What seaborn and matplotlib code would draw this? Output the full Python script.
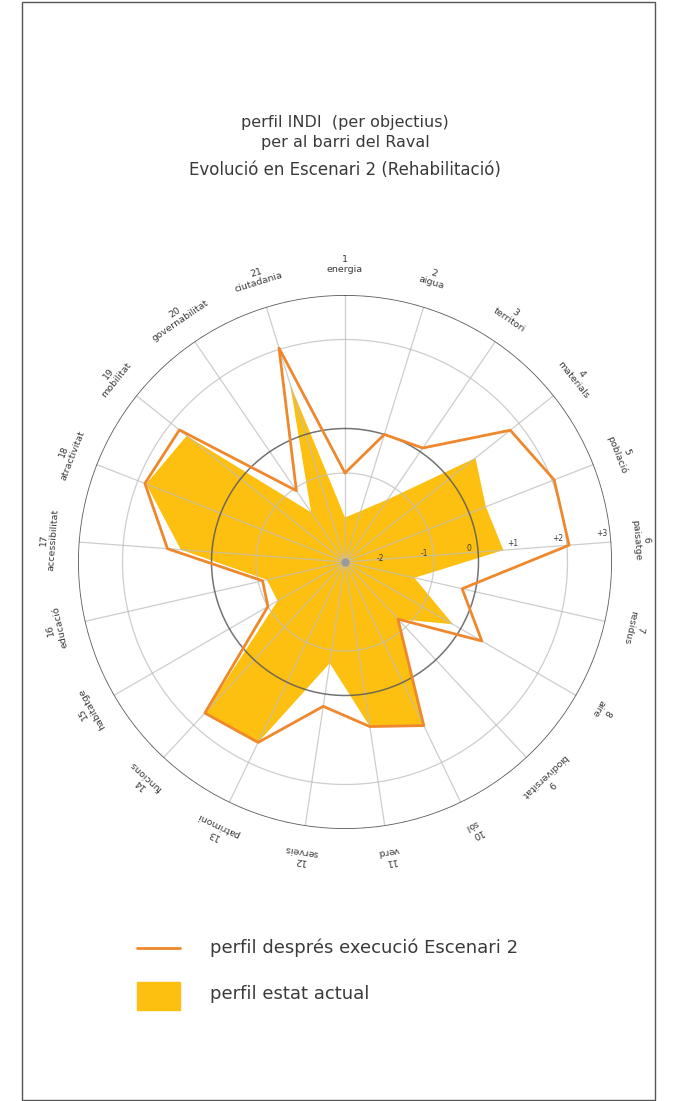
import numpy as np
import matplotlib
matplotlib.use("Agg")
import matplotlib.pyplot as plt
from matplotlib.patches import Rectangle
from matplotlib.lines import Line2D
import seaborn as sns
import pandas as pd

# ---------------- data ----------------
numeros = [str(i) for i in range(1, 22)]
objectius = ["energia", "aigua", "territori", "materials", "població", "paisatge",
             "residus", "aire", "biodiversitat", "sòl", "verd", "serveis",
             "patrimoni", "funcions", "habitatge", "educació", "accessibilitat",
             "atractivitat", "mobilitat", "governabilitat", "ciutadania"]
estat_actual = [-2.0, -1.8, -1.3, 0.75, 0.4, 0.57, -1.4, -0.2, -1.25, 1.08, 0.74,
                -0.7, 1.5, 1.63, -1.25, -1.2, 0.7, 1.8, 1.55, -1.65, 1.2]
escenari_2 = [-1.0, 0.0, 0.1, 1.75, 2.05, 2.05, -0.3, 0.55, -1.25, 1.08, 0.74,
              0.28, 1.5, 1.63, -1.0, -1.1, 1.0, 1.83, 1.76, -1.06, 2.03]
valors_anell = [-2, -1, 0, 1, 2, 3]
etiquetes_anell = ["-2", "-1", "0", "+1", "+2", "+3"]

titol = ["perfil INDI  (per objectius)", "per al barri del Raval",
         "Evolució en Escenari 2 (Rehabilitació)"]
llegenda = ["perfil després execució Escenari 2", "perfil estat actual"]

# ---------------- style ----------------
sns.set_theme(style="white")
plt.rcParams["font.family"] = ["DejaVu Sans"]

GROC = "#FDC010"
TARONJA = "#EF882C"
GRIS = "#BDBDBD"
FOSC = "#5a5a5a"
TEXT = "#3a3a3a"

W, H = 676, 1101
fig = plt.figure(figsize=(W / 100, H / 100), dpi=100)
fig.patch.set_facecolor("white")

cx, cy, R = 345, 562, 267
ax = fig.add_axes([(cx - R) / W, 1 - (cy + R) / H, 2 * R / W, 2 * R / H],
                  projection="polar")
ax.set_theta_zero_location("N")
ax.set_theta_direction(-1)
ax.set_ylim(-3, 3)
ax.grid(False)
ax.set_xticks([])
ax.set_yticks([])
ax.spines["polar"].set_visible(False)
ax.set_facecolor("none")

n = len(objectius)
theta = np.arange(n) * 2 * np.pi / n
theta_c = np.append(theta, 2 * np.pi)
act_c = np.append(estat_actual, estat_actual[0])
esc_c = np.append(escenari_2, escenari_2[0])

# filled current profile
ax.fill(theta_c, act_c, color=GROC, lw=0, zorder=2)

# grid: spokes and rings (over the fill, semi transparent)
td = np.linspace(0, 2 * np.pi, 400)
for t in theta:
    ax.plot([t, t], [-3, 3], color=GRIS, lw=0.9, alpha=0.75, zorder=3)
for v in (-1, 2):
    ax.plot(td, np.full_like(td, v), color=GRIS, lw=0.9, alpha=0.75, zorder=3)
ax.plot(td, np.zeros_like(td), color=FOSC, lw=1.1, alpha=0.85, zorder=3)
ax.plot(td, np.full_like(td, 3), color=FOSC, lw=1.2, zorder=3)

# scenario line via seaborn
df = pd.DataFrame({"theta": theta_c, "valor": esc_c})
sns.lineplot(data=df, x="theta", y="valor", sort=False, estimator=None,
             color=TARONJA, lw=2.0, ax=ax, zorder=5)
ax.set_xlabel("")
ax.set_ylabel("")
ax.set_ylim(-3, 3)

# center dot
ax.plot([0], [-3], marker="o", ms=5, color="#9a9a9a", zorder=6)

# ring labels along axis 6
t6 = theta[5]
for v, lab in zip(valors_anell, etiquetes_anell):
    ax.text(t6 - 0.035, v - 0.2, lab, fontsize=5.5, color=TEXT,
            ha="center", va="center", zorder=7)

# axis labels (tangential)
for t, num, nom in zip(theta, numeros, objectius):
    deg = np.degrees(t)
    ax.text(t, 3.68, f"{num}\n{nom}", rotation=-deg, rotation_mode="anchor",
            ha="center", va="center", fontsize=6.8, color=TEXT,
            linespacing=1.15, zorder=7)

# title
for yy, s, fs in zip([122, 143, 170], titol, [11.5, 11.5, 12]):
    fig.text(cx / W, 1 - yy / H, s, ha="center", va="center",
             fontsize=fs, color=TEXT)

# legend
fig.add_artist(Line2D([137 / W, 180 / W], [1 - 948 / H, 1 - 948 / H],
                      color=TARONJA, lw=2, transform=fig.transFigure))
fig.add_artist(Rectangle((137 / W, 1 - 1010 / H), 43 / W, 28 / H,
                         color=GROC, transform=fig.transFigure))
fig.text(210 / W, 1 - 948 / H, llegenda[0], ha="left", va="center",
         fontsize=13, color=TEXT)
fig.text(210 / W, 1 - 994 / H, llegenda[1], ha="left", va="center",
         fontsize=13, color=TEXT)

# frame
fig.add_artist(Rectangle((22 / W, 1 / H), (655 - 22) / W, (1099 - 1) / H,
                         fill=False, ec="#555555", lw=1,
                         transform=fig.transFigure))

fig.savefig("out.png", dpi=100, facecolor="white")
